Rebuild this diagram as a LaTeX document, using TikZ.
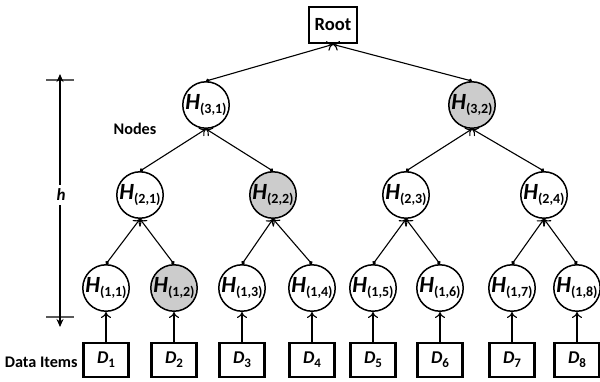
\documentclass[tikz,border=0pt]{standalone}
\usepackage{fontspec}
\setmainfont{Carlito}
\usetikzlibrary{arrows.meta}
\newcommand\HL[1]{{\fontsize{11.6}{13}\selectfont\bfseries\itshape H}\raisebox{-0.45ex}{\fontsize{7}{8}\selectfont\bfseries(#1)}}
\newcommand\DL[1]{{\fontsize{9}{10}\selectfont\bfseries\itshape D}\raisebox{-0.45ex}{\fontsize{6.5}{7}\selectfont\bfseries #1}}
\begin{document}
\begin{tikzpicture}[x=0.5pt,y=-0.5pt,
  hnode/.style={circle,draw,line width=0.75pt,minimum size=23pt,inner sep=0pt},
  shaded/.style={fill=gray!40},
  dbox/.style={draw,line width=1.4pt,minimum width=22.5pt,minimum height=17pt,inner sep=0pt},
  tree/.style={line width=0.55pt,{Circle[length=1.8pt]}-{To[length=3pt,width=5pt]}},
  leaf/.style={line width=0.55pt,-{To[length=3pt,width=5pt]}},
  lbl/.style={font=\fontsize{8.1}{9}\selectfont\bfseries,inner sep=0pt}]
\useasboundingbox (0,0) rectangle (600,381);
% root
\node[dbox,minimum width=24pt,minimum height=18pt] (root) at (333,25) {\fontsize{9.3}{10}\selectfont\bfseries Root};
% level 3
\node[hnode] (h31) at (206,105) {\HL{3,1}};
\node[hnode,shaded] (h32) at (472,105) {\HL{3,2}};
% level 2
\node[hnode] (h21) at (140,195) {\HL{2,1}};
\node[hnode,shaded] (h22) at (273,195) {\HL{2,2}};
\node[hnode] (h23) at (406,195) {\HL{2,3}};
\node[hnode] (h24) at (544,195) {\HL{2,4}};
% level 1
\node[hnode] (h11) at (106,288) {\HL{1,1}};
\node[hnode,shaded] (h12) at (174,288) {\HL{1,2}};
\node[hnode] (h13) at (242,288) {\HL{1,3}};
\node[hnode] (h14) at (312,288) {\HL{1,4}};
\node[hnode] (h15) at (373,288) {\HL{1,5}};
\node[hnode] (h16) at (440,288) {\HL{1,6}};
\node[hnode] (h17) at (512,288) {\HL{1,7}};
\node[hnode] (h18) at (577,288) {\HL{1,8}};
% data
\foreach \i/\x in {1/106,2/174,3/242,4/312,5/373,6/440,7/512,8/577}{
  \node[dbox] (d\i) at (\x,360) {\DL{\i}};
  \draw[leaf] (d\i.north) -- (h1\i.south);
}
% tree edges
\draw[tree] (h31.north) -- (root.south);
\draw[tree] (h32.north) -- (root.south);
\draw[tree] (h21.north) -- (h31.south);
\draw[tree] (h22.north) -- (h31.south);
\draw[tree] (h23.north) -- (h32.south);
\draw[tree] (h24.north) -- (h32.south);
\draw[tree] (h11.north) -- (h21.south);
\draw[tree] (h12.north) -- (h21.south);
\draw[tree] (h13.north) -- (h22.south);
\draw[tree] (h14.north) -- (h22.south);
\draw[tree] (h15.north) -- (h23.south);
\draw[tree] (h16.north) -- (h23.south);
\draw[tree] (h17.north) -- (h24.south);
\draw[tree] (h18.north) -- (h24.south);
% labels
\node[lbl] (nodes) at (135,129) {Nodes};
\node[lbl,anchor=east] (data) at (78,362) {Data Items};
% height marker
\coordinate (ht) at (60,80);
\coordinate (hb) at (60,317);
\draw[line width=0.9pt,gray!70!black] ([xshift=-7]ht) -- ([xshift=7]ht);
\draw[line width=0.9pt,gray!70!black] ([xshift=-7]hb) -- ([xshift=7]hb);
\draw[line width=0.6pt,{Stealth[length=4pt,width=3.5pt]}-{Stealth[length=4pt,width=3.5pt]}] ([yshift=3]ht) -- ([yshift=-5]hb);
\node[fill=white,inner sep=2pt,font=\fontsize{8.5}{9}\selectfont\bfseries\itshape] (h) at (61,195) {h};
\end{tikzpicture}
\end{document}
